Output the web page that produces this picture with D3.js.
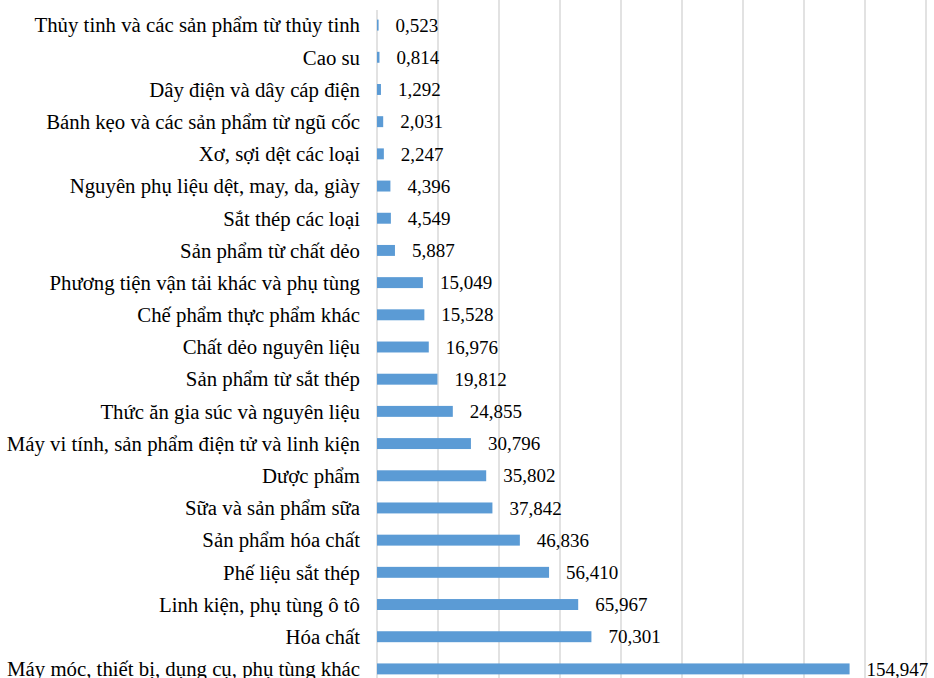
<!DOCTYPE html>
<html>
<head>
<meta charset="utf-8">
<script src="https://cdn.jsdelivr.net/npm/d3@7"></script>
<style>
  body { margin: 0; background: #fff; }
</style>
</head>
<body>
<div id="chart"></div>
<script>
// categories, top to bottom
var categories = [
  "Thủy tinh và các sản phẩm từ thủy tinh",
  "Cao su",
  "Dây điện và dây cáp điện",
  "Bánh kẹo và các sản phẩm từ ngũ cốc",
  "Xơ, sợi dệt các loại",
  "Nguyên phụ liệu dệt, may, da, giày",
  "Sắt thép các loại",
  "Sản phẩm từ chất dẻo",
  "Phương tiện vận tải khác và phụ tùng",
  "Chế phẩm thực phẩm khác",
  "Chất dẻo nguyên liệu",
  "Sản phẩm từ sắt thép",
  "Thức ăn gia súc và nguyên liệu",
  "Máy vi tính, sản phẩm điện tử và linh kiện",
  "Dược phẩm",
  "Sữa và sản phẩm sữa",
  "Sản phẩm hóa chất",
  "Phế liệu sắt thép",
  "Linh kiện, phụ tùng ô tô",
  "Hóa chất",
  "Máy móc, thiết bị, dụng cụ, phụ tùng khác"
];

var values = [0.523, 0.814, 1.292, 2.031, 2.247, 4.396, 4.549, 5.887, 15.049, 15.528,
  16.976, 19.812, 24.855, 30.796, 35.802, 37.842, 46.836, 56.410, 65.967, 70.301, 154.947];

var tickValues = [0, 20, 40, 60, 80, 100, 120, 140, 160, 180];

var svgWidth = 934;
var svgHeight = 678;
var serif = "'Liberation Serif', 'Times New Roman', serif";

var svg = d3.select("#chart")
  .append("svg")
  .attr("width", svgWidth)
  .attr("height", svgHeight);

var x = d3.scaleLinear()
  .domain([0, 180])
  .range([377, 926]);

var y = d3.scaleBand()
  .domain(categories)
  .range([9, 685])
  .paddingInner(0.66)
  .paddingOuter(0.33);

// vertical grid lines
svg.append("g")
  .selectAll("line")
  .data(tickValues)
  .enter()
  .append("line")
  .attr("x1", d => x(d))
  .attr("x2", d => x(d))
  .attr("y1", d => d === 0 ? 10 : 0)
  .attr("y2", svgHeight)
  .attr("stroke", "#d9d9d9")
  .attr("stroke-width", 1.5);

// bars
svg.append("g")
  .selectAll("rect")
  .data(values)
  .enter()
  .append("rect")
  .attr("x", x(0))
  .attr("y", (d, i) => y(categories[i]))
  .attr("width", d => x(d) - x(0))
  .attr("height", y.bandwidth())
  .attr("fill", "#5b9bd5");

// category labels
svg.append("g")
  .selectAll("text")
  .data(categories)
  .enter()
  .append("text")
  .attr("x", 360)
  .attr("y", d => y(d) + y.bandwidth() / 2)
  .attr("dy", "0.35em")
  .attr("text-anchor", "end")
  .style("font-family", serif)
  .style("font-size", "20.8px")
  .text(d => d);

// value labels (comma as decimal mark)
svg.append("g")
  .selectAll("text")
  .data(values)
  .enter()
  .append("text")
  .attr("x", d => x(d) + 17)
  .attr("y", (d, i) => y(categories[i]) + y.bandwidth() / 2)
  .attr("dy", "0.35em")
  .style("font-family", serif)
  .style("font-size", "19px")
  .text(d => d.toFixed(3).replace(".", ","));
</script>
</body>
</html>
